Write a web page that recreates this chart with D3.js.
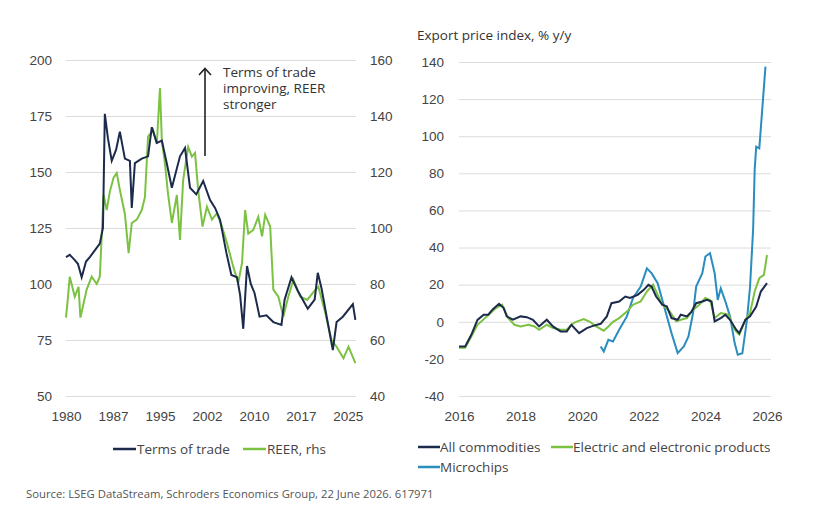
<!DOCTYPE html>
<html>
<head>
<meta charset="utf-8">
<script src="https://cdn.jsdelivr.net/npm/d3@7"></script>
<style>
	body { margin: 0; background: #fff; }
	svg { font-family: "Open Sans", "Noto Sans", sans-serif; }
</style>
</head>
<body>
<svg id="chart" width="816" height="526"></svg>
<script>
// left panel: terms of trade (lhs) and REER (rhs), decimal year / value
const termsOfTrade = [
	[1980.0, 112], [1980.6, 113], [1981.3, 111], [1981.9, 109], [1982.5, 103],
	[1983.2, 110], [1983.8, 112], [1984.6, 115], [1985.4, 118], [1985.9, 125],
	[1986.2, 176], [1986.7, 165], [1987.3, 155], [1988.0, 160], [1988.6, 168],
	[1989.4, 156], [1990.2, 155], [1990.5, 134], [1991.0, 154], [1992.1, 156],
	[1993.1, 157], [1993.7, 170], [1994.5, 163], [1995.3, 164], [1996.0, 155],
	[1996.9, 143], [1998.2, 157], [1999.0, 160.7], [1999.8, 143], [2000.8, 140],
	[2001.9, 146], [2003.0, 137.5], [2003.8, 134], [2004.6, 128.6], [2005.6, 114],
	[2006.4, 104], [2007.3, 103], [2007.8, 95], [2008.3, 80], [2008.9, 108],
	[2009.5, 100], [2010.1, 96], [2010.9, 85.4], [2012.0, 86], [2013.1, 83],
	[2014.4, 81.7], [2014.9, 93], [2016.0, 103], [2017.0, 97], [2018.6, 89],
	[2019.7, 93], [2020.2, 105], [2020.8, 98], [2021.8, 82.6], [2022.6, 70.5],
	[2023.2, 83], [2024.2, 85.4], [2025.8, 91], [2026.2, 84]
];
const reer = [
	[1980.0, 68], [1980.3, 75], [1980.6, 82.6], [1981.4, 75.5], [1982.0, 79],
	[1982.3, 68], [1983.3, 78], [1984.1, 82.6], [1984.9, 80], [1985.4, 82.6],
	[1986.0, 111.8], [1986.5, 106.4], [1987.0, 113], [1987.6, 118], [1988.1, 119.6],
	[1988.6, 113.6], [1989.4, 105], [1990.0, 91], [1990.5, 101.8], [1991.3, 103],
	[1992.1, 106.4], [1992.6, 111], [1993.1, 132.6], [1993.9, 135], [1994.5, 130],
	[1995.0, 150], [1995.3, 131.4], [1995.8, 123], [1996.3, 112], [1996.9, 101.8],
	[1997.7, 111.8], [1998.2, 95.7], [1998.7, 117], [1999.5, 129], [2000.1, 125.5],
	[2000.6, 126.8], [2001.1, 113.6], [2001.8, 100.5], [2002.5, 107.6], [2003.3, 103],
	[2004.1, 105.3], [2004.9, 100.5], [2005.7, 94.6], [2006.7, 86.2], [2007.5, 80.4],
	[2008.1, 87.5], [2008.6, 106.4], [2009.1, 98], [2009.9, 99.3], [2010.7, 104],
	[2011.3, 97], [2011.8, 104.7], [2012.6, 100.5], [2013.1, 78], [2013.9, 75.5],
	[2014.7, 68.4], [2015.5, 75.5], [2016.3, 81.5], [2017.4, 75.5], [2018.5, 74.3],
	[2019.8, 77.9], [2020.3, 79], [2021.4, 69.6], [2022.4, 60], [2023.2, 57.6],
	[2024.3, 53.5], [2025.1, 57.6], [2026.2, 51.7]
];
const leftTicksLhs = [50, 75, 100, 125, 150, 175, 200];
const leftTicksRhs = [40, 60, 80, 100, 120, 140, 160];
const leftYearTicks = [1980, 1987.5, 1995, 2002.5, 2010, 2017.5, 2025];
const leftYearLabels = ["1980", "1987", "1995", "2002", "2010", "2017", "2025"];

// right panel: export price index, % y/y
const allCommodities = [
	[2016.0, -13.3], [2016.2, -13.3], [2016.4, -7], [2016.6, 1], [2016.8, 3.8],
	[2016.95, 3.8], [2017.1, 6.8], [2017.3, 9.7], [2017.45, 7.4], [2017.55, 2.9],
	[2017.75, 1.1], [2018.0, 2.9], [2018.2, 2.5], [2018.4, 1.1], [2018.6, -2.5],
	[2018.85, 1.1], [2019.05, -2.5], [2019.3, -5.2], [2019.5, -5.2], [2019.65, -1.6],
	[2019.9, -6.1], [2020.15, -3.4], [2020.35, -2.2], [2020.6, -1.1], [2020.8, 2.9],
	[2020.95, 10], [2021.2, 10.9], [2021.4, 13.6], [2021.55, 12.8], [2021.8, 14.5],
	[2022.0, 17.2], [2022.15, 19.9], [2022.25, 19], [2022.4, 13.6], [2022.6, 9.2],
	[2022.75, 8.2], [2022.9, 2], [2023.1, 1.1], [2023.2, 3.8], [2023.4, 2.9],
	[2023.55, 5.5], [2023.7, 10], [2023.9, 10.9], [2024.05, 11.8], [2024.2, 10.9],
	[2024.3, 0.2], [2024.5, 2], [2024.65, 3.8], [2024.8, 1.1], [2025.0, -4.3],
	[2025.1, -6.1], [2025.3, 1.1], [2025.45, 2.9], [2025.65, 8.2], [2025.8, 16.3],
	[2026.0, 20.8]
];
const electronics = [
	[2016.0, -14], [2016.2, -14], [2016.4, -8], [2016.6, -1.6], [2016.9, 2.9],
	[2017.2, 7.4], [2017.4, 9.2], [2017.6, 2], [2017.8, -1.6], [2018.0, -2.5],
	[2018.25, -1.6], [2018.45, -2.5], [2018.6, -4.3], [2018.85, -1.6], [2019.05, -3.4],
	[2019.3, -4.3], [2019.5, -4.3], [2019.65, -1.6], [2019.8, 0], [2020.05, 1.5],
	[2020.25, 0], [2020.45, -2.5], [2020.7, -4.8], [2020.85, -2.5], [2021.0, 0],
	[2021.2, 2], [2021.45, 5.5], [2021.65, 9.2], [2021.9, 11], [2022.1, 16.3],
	[2022.3, 20], [2022.45, 14.5], [2022.6, 9.2], [2022.85, 5.5], [2023.05, 0.2],
	[2023.2, 1.1], [2023.4, 2], [2023.6, 6.4], [2023.8, 9.2], [2024.0, 12.8],
	[2024.15, 11.8], [2024.3, 2], [2024.5, 4.7], [2024.75, 3.8], [2024.95, -4.3],
	[2025.1, -7], [2025.3, 1.1], [2025.45, 4.7], [2025.6, 16.3], [2025.75, 23.5],
	[2025.9, 25.3], [2026.0, 36]
];
const microchips = [
	[2020.6, -13.3], [2020.7, -16], [2020.85, -9.7], [2021.0, -10.6], [2021.2, -4.3],
	[2021.45, 2.9], [2021.65, 12.8], [2021.9, 19], [2022.1, 28.8], [2022.25, 26.2],
	[2022.45, 20.8], [2022.75, 2.9], [2022.9, -6.1], [2023.1, -16.9], [2023.3, -13.3],
	[2023.45, -7.9], [2023.6, 4.7], [2023.7, 19], [2023.9, 26.2], [2024.0, 35.2],
	[2024.15, 37], [2024.3, 26.2], [2024.4, 11.8], [2024.5, 18], [2024.65, 10.9],
	[2024.8, 2.9], [2024.95, -11.5], [2025.05, -17.8], [2025.2, -17], [2025.35, 1.1],
	[2025.45, 19], [2025.55, 50], [2025.6, 82], [2025.65, 94.4], [2025.75, 93.5],
	[2025.95, 137.5]
];
const rightTicks = [-40, -20, 0, 20, 40, 60, 80, 100, 120, 140];
const rightYearTicks = [2016, 2018, 2020, 2022, 2024, 2026];

const navy = "#1c2b4b";
const green = "#7cc242";
const blue = "#2a8dbf";
const grid = "#dcdcdc";
const labelColor = "#444";
const fontSize = "13.5px";

const svg = d3.select("#chart");

function styleAxis(g) {
	g.select(".domain").remove();
	g.selectAll(".tick line").attr("stroke", grid).attr("stroke-width", 1);
	g.selectAll(".tick text")
		.attr("fill", labelColor)
		.attr("font-size", fontSize);
}

// ---------- left panel ----------
const lx = d3.scaleLinear().domain([1980, 2026.3]).range([66, 356]);
const ly = d3.scaleLinear().domain([50, 200]).range([396, 60]);
const lyR = d3.scaleLinear().domain([40, 160]).range([396, 60]);

svg.append("g")
	.attr("transform", "translate(66,0)")
	.call(d3.axisLeft(ly).tickValues(leftTicksLhs).tickSizeInner(-290).tickSizeOuter(0).tickPadding(14))
	.call(styleAxis);

svg.append("g")
	.attr("transform", "translate(356,0)")
	.call(d3.axisRight(lyR).tickValues(leftTicksRhs).tickSize(0).tickPadding(14))
	.call(styleAxis);

svg.append("g")
	.attr("transform", "translate(0,407)")
	.call(d3.axisBottom(lx).tickValues(leftYearTicks).tickSize(0).tickPadding(4)
		.tickFormat((d, i) => leftYearLabels[i]))
	.call(styleAxis);

const lineL = d3.line().x(d => lx(d[0])).y(d => ly(d[1]));
const lineR = d3.line().x(d => lx(d[0])).y(d => lyR(d[1]));

svg.append("path")
	.datum(reer)
	.attr("d", lineR)
	.attr("fill", "none")
	.attr("stroke", green)
	.attr("stroke-width", 2);

svg.append("path")
	.datum(termsOfTrade)
	.attr("d", lineL)
	.attr("fill", "none")
	.attr("stroke", navy)
	.attr("stroke-width", 2);

// annotation arrow
svg.append("line")
	.attr("x1", 205).attr("y1", 156)
	.attr("x2", 205).attr("y2", 69)
	.attr("stroke", "#222")
	.attr("stroke-width", 1.6);
svg.append("path")
	.attr("d", "M199,75 L205,68.5 L211,75")
	.attr("fill", "none")
	.attr("stroke", "#222")
	.attr("stroke-width", 1.6);

["Terms of trade", "improving, REER", "stronger"].forEach((t, i) => {
	svg.append("text")
		.attr("x", 223).attr("y", 77 + i * 16)
		.attr("fill", "#333")
		.attr("font-size", fontSize)
		.text(t);
});

// left legend
const leftLegend = [
	{ label: "Terms of trade", color: navy, x: 113 },
	{ label: "REER, rhs", color: green, x: 243 }
];
leftLegend.forEach(d => {
	svg.append("line")
		.attr("x1", d.x).attr("x2", d.x + 23)
		.attr("y1", 449).attr("y2", 449)
		.attr("stroke", d.color).attr("stroke-width", 2.5);
	svg.append("text")
		.attr("x", d.x + 24).attr("y", 454)
		.attr("fill", labelColor)
		.attr("font-size", fontSize)
		.text(d.label);
});

// ---------- right panel ----------
const rx = d3.scaleLinear().domain([2016, 2026.13]).range([459, 771]);
const ry = d3.scaleLinear().domain([-40, 140]).range([396, 62]);

svg.append("text")
	.attr("x", 417).attr("y", 40)
	.attr("fill", "#333")
	.attr("font-size", fontSize)
	.text("Export price index, % y/y");

svg.append("g")
	.attr("transform", "translate(459,0)")
	.call(d3.axisLeft(ry).tickValues(rightTicks).tickSizeInner(-312).tickSizeOuter(0).tickPadding(15)
		.tickFormat(d => String(d)))
	.call(styleAxis);

svg.append("g")
	.attr("transform", "translate(0,407)")
	.call(d3.axisBottom(rx).tickValues(rightYearTicks).tickSize(0).tickPadding(4).tickFormat(d3.format("d")))
	.call(styleAxis);

const lineRight = d3.line().x(d => rx(d[0])).y(d => ry(d[1]));
[
	{ data: microchips, color: blue },
	{ data: electronics, color: green },
	{ data: allCommodities, color: navy }
].forEach(s => {
	svg.append("path")
		.datum(s.data)
		.attr("d", lineRight)
		.attr("fill", "none")
		.attr("stroke", s.color)
		.attr("stroke-width", 2);
});

// right legend
const rightLegend = [
	{ label: "All commodities", color: navy, x: 418, y: 447 },
	{ label: "Electric and electronic products", color: green, x: 551, y: 447 },
	{ label: "Microchips", color: blue, x: 418, y: 467 }
];
rightLegend.forEach(d => {
	svg.append("line")
		.attr("x1", d.x).attr("x2", d.x + 22)
		.attr("y1", d.y).attr("y2", d.y)
		.attr("stroke", d.color).attr("stroke-width", 2.5);
	svg.append("text")
		.attr("x", d.x + 22).attr("y", d.y + 5)
		.attr("fill", labelColor)
		.attr("font-size", fontSize)
		.text(d.label);
});

// source
svg.append("text")
	.attr("x", 26).attr("y", 498)
	.attr("fill", "#555")
	.attr("font-size", "11.3px")
	.text("Source: LSEG DataStream, Schroders Economics Group, 22 June 2026. 617971");
</script>
</body>
</html>
